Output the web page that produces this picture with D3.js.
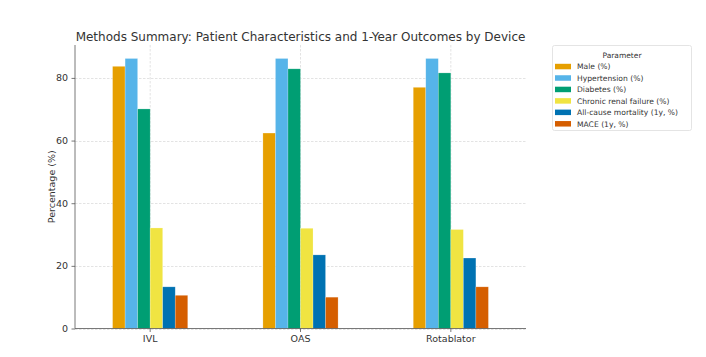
<!DOCTYPE html>
<html><head><meta charset="utf-8">
<script src="https://cdn.jsdelivr.net/npm/d3@7"></script>
<style>body{margin:0;background:#fff}svg{display:block}</style>
</head><body>
<svg id="chart" width="706" height="357"></svg>
<script>
const categories = ["IVL", "OAS", "Rotablator"];
const seriesNames = ["Male (%)", "Hypertension (%)", "Diabetes (%)", "Chronic renal failure (%)", "All-cause mortality (1y, %)", "MACE (1y, %)"];
const seriesColors = ["#E69F00", "#56B4E9", "#009E73", "#F0E442", "#0072B2", "#D55E00"];
const male = [83.7, 62.4, 77.0];
const hypertension = [86.2, 86.2, 86.2];
const diabetes = [70.1, 82.9, 81.6];
const crf = [32.1, 32.0, 31.6];
const mortality = [13.3, 23.5, 22.5];
const mace = [10.6, 10.0, 13.3];
const yTicks = [0, 20, 40, 60, 80];
const titleText = "Methods Summary: Patient Characteristics and 1-Year Outcomes by Device";
const yLabel = "Percentage (%)";
const legendTitle = "Parameter";

const seriesValues = [male, hypertension, diabetes, crf, mortality, mace];
const svg = d3.select("#chart");
const m = {left: 75, right: 526, top: 45, bottom: 328.5};
const font = "DejaVu Sans, sans-serif";

const x = d3.scaleBand().domain(categories).range([m.left, m.right]).paddingInner(0).paddingOuter(0);
const groupW = x.bandwidth() * 0.5;
const xs = d3.scaleBand().domain(d3.range(seriesNames.length)).range([-groupW/2, groupW/2]);
const ymax = d3.max(seriesValues.flat()) * 1.05;
const y = d3.scaleLinear().domain([0, ymax]).range([m.bottom, m.top]);

// grid
const g = svg.append("g");
g.selectAll(".hg").data(yTicks).join("line")
  .attr("x1", m.left).attr("x2", m.right)
  .attr("y1", d => Math.round(y(d)) + 0.5).attr("y2", d => Math.round(y(d)) + 0.5)
  .attr("stroke", "#dcdcdc").attr("stroke-width", 0.8).attr("stroke-dasharray", "2.5,1.5");
g.selectAll(".vg").data(categories).join("line")
  .attr("x1", d => x(d) + x.bandwidth()/2).attr("x2", d => x(d) + x.bandwidth()/2)
  .attr("y1", m.top).attr("y2", m.bottom)
  .attr("stroke", "#dcdcdc").attr("stroke-width", 0.8).attr("stroke-dasharray", "2.5,1.5");

// bars
seriesValues.forEach((vals, si) => {
  svg.append("g").selectAll("rect").data(vals).join("rect")
    .attr("x", (d, i) => x(categories[i]) + x.bandwidth()/2 + xs(si))
    .attr("width", xs.bandwidth())
    .attr("y", d => y(d))
    .attr("height", d => y(0) - y(d))
    .attr("fill", seriesColors[si])
    .attr("stroke", "#fff").attr("stroke-opacity", 0.35).attr("stroke-width", 0.6);
});

// axes
const ya = svg.append("g").attr("transform", `translate(${m.left},0)`)
  .call(d3.axisLeft(y).tickValues(yTicks).tickSize(3.5).tickPadding(3.5));
const xa = svg.append("g").attr("transform", `translate(0,${m.bottom})`)
  .call(d3.axisBottom(x).tickSize(3.5).tickPadding(3));
[ya, xa].forEach(a => {
  a.selectAll("text").attr("font-family", font).attr("font-size", 9.5).attr("fill", "#333");
  a.selectAll("line").attr("stroke", "#555").attr("stroke-width", 0.8);
  a.select(".domain").attr("stroke", "#555").attr("stroke-width", 0.8);
});
ya.select(".domain").attr("d", `M0,${m.top}V${m.bottom}`);
xa.select(".domain").attr("d", `M${m.left},0H${m.right}`);

// title
svg.append("text").attr("x", (m.left + m.right)/2).attr("y", 41)
  .attr("text-anchor", "middle").attr("font-family", font).attr("font-size", 12)
  .attr("fill", "#333").text(titleText);
// y label
svg.append("text").attr("transform", `translate(55,${(m.top + m.bottom)/2}) rotate(-90)`)
  .attr("text-anchor", "middle").attr("font-family", font).attr("font-size", 9.5)
  .attr("fill", "#333").text(yLabel);

// legend
const lg = svg.append("g").attr("transform", "translate(552,45)");
lg.append("rect").attr("x", 0.5).attr("y", 0.5).attr("width", 139).attr("height", 85)
  .attr("fill", "#fff").attr("stroke", "#ddd").attr("stroke-width", 0.8).attr("rx", 2);
lg.append("text").attr("x", 70).attr("y", 13).attr("text-anchor", "middle")
  .attr("font-family", font).attr("font-size", 7.5).attr("fill", "#333").text(legendTitle);
const items = lg.selectAll(".it").data(seriesNames).join("g")
  .attr("transform", (d, i) => `translate(3,${23.8 + i * 11.45})`);
items.append("rect").attr("x", 0).attr("y", -5).attr("width", 16).attr("height", 5.5)
  .attr("fill", (d, i) => seriesColors[i]);
items.append("text").attr("x", 22).attr("y", 0.5)
  .attr("font-family", font).attr("font-size", 7.6).attr("fill", "#333").text(d => d);
</script>
</body></html>
